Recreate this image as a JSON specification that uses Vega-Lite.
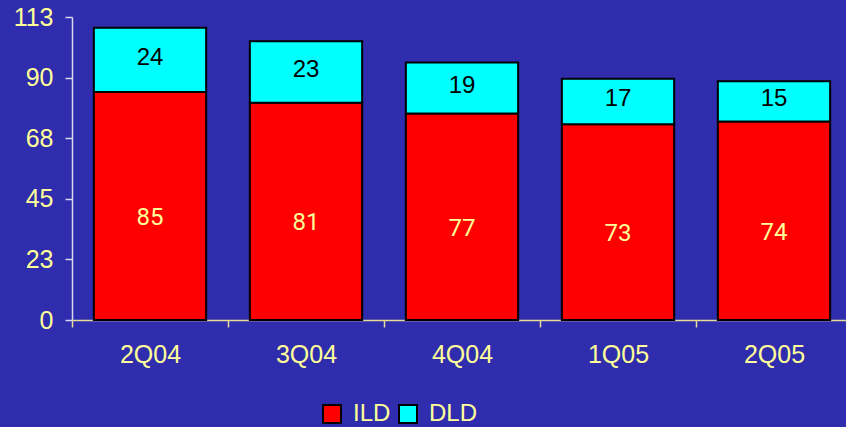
{
  "$schema": "https://vega.github.io/schema/vega-lite/v6.json",
  "width": 780,
  "height": 303,
  "autosize": {"type": "none"},
  "padding": {"left": 72, "top": 17, "right": 0, "bottom": 107},
  "background": "#2F2DAD",
  "config": {
    "view": {"stroke": null},
    "font": "Liberation Sans",
    "axis": {
      "labelFont": "Liberation Sans",
      "labelFontSize": 25,
      "labelColor": "#FFFF99",
      "grid": false,
      "title": null,
      "tickSize": 7,
      "tickWidth": 1.5,
      "domainWidth": 1.5
    }
  },
  "data": {
    "values": [
      {"quarter": "2Q04", "type": "ILD", "value": 85},
      {"quarter": "2Q04", "type": "DLD", "value": 24},
      {"quarter": "3Q04", "type": "ILD", "value": 81},
      {"quarter": "3Q04", "type": "DLD", "value": 23},
      {"quarter": "4Q04", "type": "ILD", "value": 77},
      {"quarter": "4Q04", "type": "DLD", "value": 19},
      {"quarter": "1Q05", "type": "ILD", "value": 73},
      {"quarter": "1Q05", "type": "DLD", "value": 17},
      {"quarter": "2Q05", "type": "ILD", "value": 74},
      {"quarter": "2Q05", "type": "DLD", "value": 15}
    ]
  },
  "transform": [
    {"calculate": "datum.type === 'ILD' ? 0 : 1", "as": "stackOrder"},
    {"stack": "value", "groupby": ["quarter"], "sort": [{"field": "stackOrder"}], "as": ["y0", "y1"]},
    {"calculate": "(datum.y0 + datum.y1) / 2", "as": "ymid"}
  ],
  "encoding": {
    "x": {
      "field": "quarter",
      "type": "nominal",
      "sort": ["2Q04", "3Q04", "4Q04", "1Q05", "2Q05"],
      "scale": {"paddingInner": 0, "paddingOuter": 0},
      "axis": {
        "labelAngle": 0,
        "tickBand": "extent",
        "domainColor": "#E6DC96",
        "tickColor": "#E6DC96",
        "labelPadding": 15
      }
    }
  },
  "layer": [
    {
      "mark": {"type": "bar", "stroke": "#000000", "strokeWidth": 2, "width": {"band": 0.72}},
      "encoding": {
        "y": {
          "field": "y0",
          "type": "quantitative",
          "scale": {"domain": [0, 113], "nice": false, "zero": true},
          "axis": {
            "values": [0, 22.6, 45.2, 67.8, 90.4, 113],
            "format": ".0f",
            "domainColor": "#D8D8EC",
            "tickColor": "#D8D8EC",
            "labelPadding": 12
          }
        },
        "y2": {"field": "y1"},
        "fill": {
          "field": "type",
          "type": "nominal",
          "scale": {"domain": ["ILD", "DLD"], "range": ["#FF0000", "#00FFFF"]},
          "legend": {
            "title": null,
            "orient": "none",
            "direction": "horizontal",
            "gridAlign": "none",
            "legendX": 248,
            "legendY": 385,
            "symbolType": "square",
            "symbolSize": 324,
            "symbolStrokeColor": "#000000",
            "symbolStrokeWidth": 2,
            "symbolOpacity": 1,
            "labelFontSize": 24,
            "labelColor": "#FFFF99",
            "labelOffset": 9,
            "columnPadding": 4
          }
        }
      }
    },
    {
      "transform": [{"filter": "datum.type === 'ILD'"}],
      "mark": {"type": "text", "font": "Roboto", "fontSize": 24, "baseline": "middle", "dy": 12, "color": "#FFFF99"},
      "encoding": {
        "y": {"field": "ymid", "type": "quantitative"},
        "text": {"field": "value", "type": "quantitative"}
      }
    },
    {
      "transform": [{"filter": "datum.type === 'DLD'"}],
      "mark": {"type": "text", "fontSize": 24, "baseline": "middle", "dy": -2, "color": "#000000"},
      "encoding": {
        "y": {"field": "ymid", "type": "quantitative"},
        "text": {"field": "value", "type": "quantitative"}
      }
    }
  ]
}
